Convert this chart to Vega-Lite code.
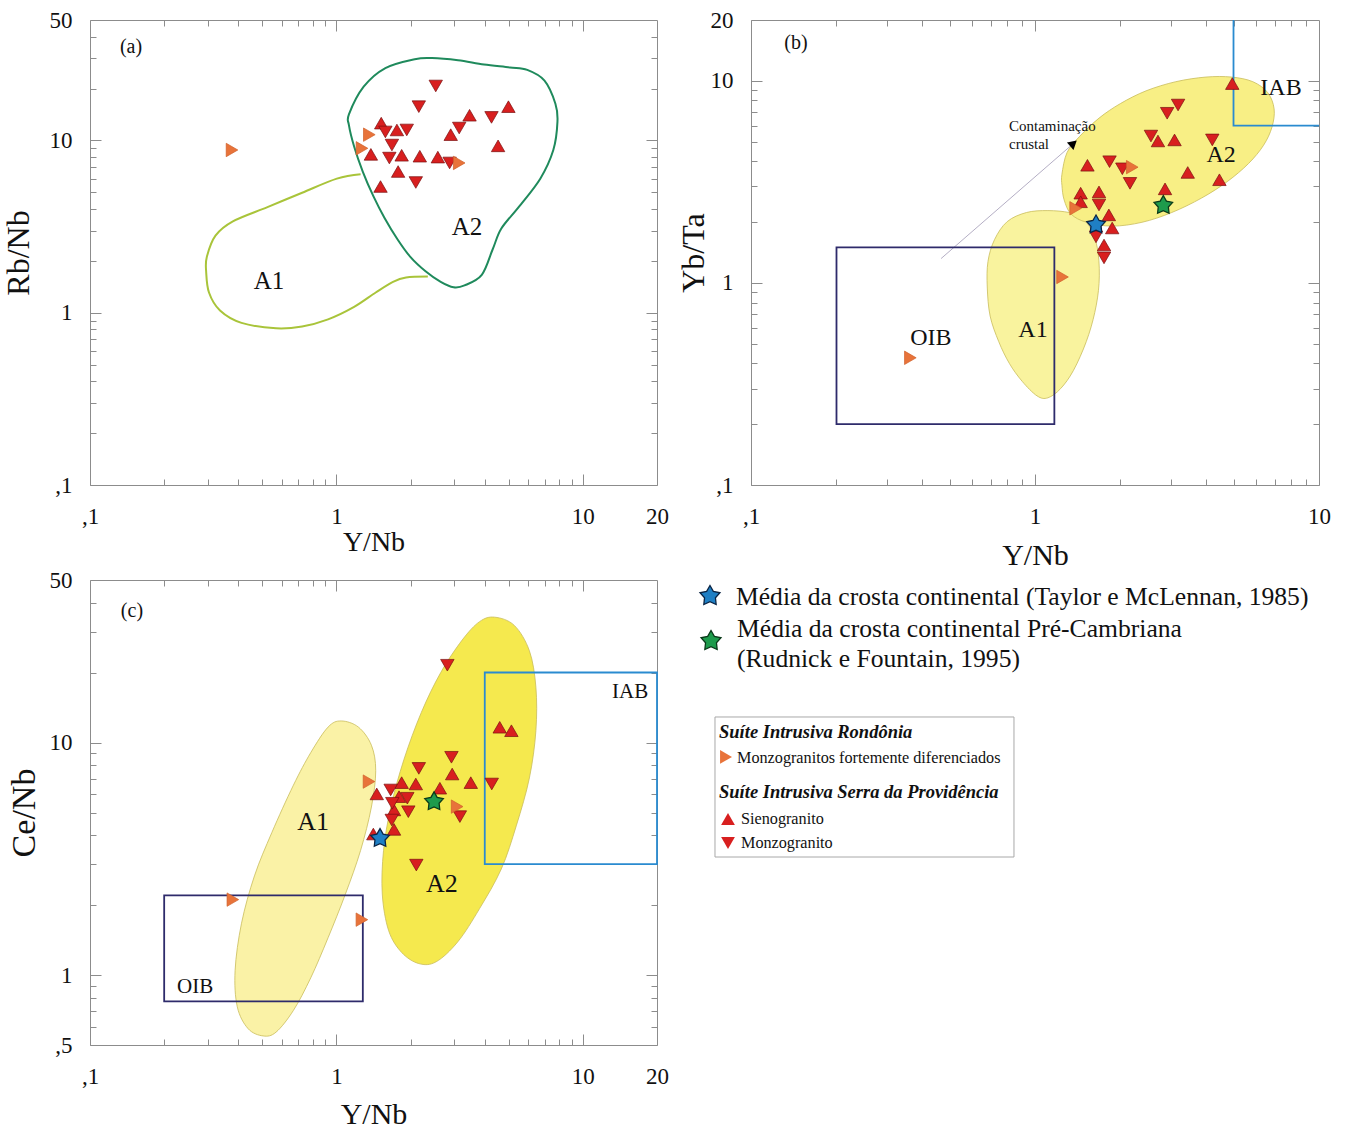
{
"$schema":"https://vega.github.io/schema/vega-lite/v6.json",
"background":"white",
"padding":{"left":1,"top":8,"right":5,"bottom":0},
"bounds":"flush",
"columns":2,
"spacing":{"row":95,"column":94},
"config":{
 "view":{"stroke":"#8c8c8c","strokeWidth":1},
 "font":"Liberation Serif",
 "axis":{"domain":false,"grid":false,"tickColor":"#8c8c8c","tickWidth":1,"labelFont":"Liberation Serif","labelFontSize":23,"labelColor":"#111111","labelFlush":false,"labelOverlap":false,"titleFont":"Liberation Serif","titleFontWeight":"normal","titleColor":"#111111"},
 "text":{"font":"Liberation Serif","color":"#111111","align":"center","baseline":"middle"}
},
"datasets":{
 "a_pts":[
  {"t":"U","x":3.47,"y":14.0},{"t":"U","x":4.99,"y":15.7},{"t":"U","x":1.52,"y":12.6},{"t":"U","x":1.76,"y":11.5},{"t":"U","x":2.91,"y":10.8},{"t":"U","x":1.38,"y":8.3},{"t":"U","x":1.84,"y":8.2},{"t":"U","x":2.18,"y":8.1},{"t":"U","x":2.58,"y":8.0},{"t":"U","x":4.53,"y":9.3},{"t":"U","x":1.78,"y":6.6},{"t":"U","x":1.51,"y":5.4},
  {"t":"D","x":2.53,"y":20.7},{"t":"D","x":2.16,"y":15.7},{"t":"D","x":4.26,"y":13.6},{"t":"D","x":1.58,"y":11.2},{"t":"D","x":1.93,"y":11.5},{"t":"D","x":3.15,"y":11.8},{"t":"D","x":1.68,"y":9.4},{"t":"D","x":1.64,"y":7.9},{"t":"D","x":2.88,"y":7.4},{"t":"D","x":2.1,"y":5.7},
  {"t":"R","x":1.36,"y":10.8},{"t":"R","x":1.27,"y":9.0},{"t":"R","x":3.15,"y":7.4},{"t":"R","x":0.377,"y":8.8}
 ],
 "a_shp":[
  {"s":"A1","i":0,"x":1.254,"y":6.36},{"s":"A1","i":1,"x":1.004,"y":6.0},{"s":"A1","i":2,"x":0.726,"y":4.97},{"s":"A1","i":3,"x":0.525,"y":4.1},{"s":"A1","i":4,"x":0.38,"y":3.39},{"s":"A1","i":5,"x":0.323,"y":2.8},{"s":"A1","i":6,"x":0.298,"y":2.11},{"s":"A1","i":7,"x":0.296,"y":1.74},{"s":"A1","i":8,"x":0.304,"y":1.31},{"s":"A1","i":9,"x":0.337,"y":1.03},{"s":"A1","i":10,"x":0.412,"y":0.873},{"s":"A1","i":11,"x":0.569,"y":0.812},{"s":"A1","i":12,"x":0.726,"y":0.832},{"s":"A1","i":13,"x":0.925,"y":0.915},{"s":"A1","i":14,"x":1.18,"y":1.081},{"s":"A1","i":15,"x":1.444,"y":1.31},{"s":"A1","i":16,"x":1.697,"y":1.51},{"s":"A1","i":17,"x":1.917,"y":1.6},{"s":"A1","i":18,"x":2.35,"y":1.62},
  {"s":"A2","i":0,"x":1.124,"y":14.16},{"s":"A2","i":1,"x":1.29,"y":20.5},{"s":"A2","i":2,"x":1.58,"y":26.3},{"s":"A2","i":3,"x":2.079,"y":29.62},{"s":"A2","i":4,"x":2.443,"y":30.06},{"s":"A2","i":5,"x":3.115,"y":29.18},{"s":"A2","i":6,"x":3.972,"y":27.58},{"s":"A2","i":7,"x":5.06,"y":26.54},{"s":"A2","i":8,"x":5.95,"y":25.67},{"s":"A2","i":9,"x":6.99,"y":22.25},{"s":"A2","i":10,"x":7.74,"y":16.34},{"s":"A2","i":11,"x":7.89,"y":12.86},{"s":"A2","i":12,"x":7.59,"y":8.79},{"s":"A2","i":13,"x":6.72,"y":6.0},{"s":"A2","i":14,"x":5.49,"y":4.1},{"s":"A2","i":15,"x":4.67,"y":3.08},{"s":"A2","i":16,"x":4.3,"y":2.32},{"s":"A2","i":17,"x":3.89,"y":1.66},{"s":"A2","i":18,"x":3.31,"y":1.44},{"s":"A2","i":19,"x":2.99,"y":1.405},{"s":"A2","i":20,"x":2.65,"y":1.51},{"s":"A2","i":21,"x":2.3,"y":1.74},{"s":"A2","i":22,"x":1.995,"y":2.11},{"s":"A2","i":23,"x":1.769,"y":2.67},{"s":"A2","i":24,"x":1.566,"y":3.56},{"s":"A2","i":25,"x":1.414,"y":4.73},{"s":"A2","i":26,"x":1.279,"y":6.6},{"s":"A2","i":27,"x":1.18,"y":9.22},{"s":"A2","i":28,"x":1.124,"y":12.27}
 ],
 "a_lab":[
  {"k":"p","label":"(a)","x":0.1467,"y":34.8},
  {"k":"r","label":"A1","x":0.533,"y":1.53},
  {"k":"r","label":"A2","x":3.39,"y":3.15}
 ],
 "b_pts":[
  {"t":"U","x":4.95,"y":9.69},{"t":"U","x":2.71,"y":5.04},{"t":"U","x":3.1,"y":5.1},{"t":"U","x":3.45,"y":3.52},{"t":"U","x":4.46,"y":3.24},{"t":"U","x":1.53,"y":3.82},{"t":"U","x":2.87,"y":2.92},{"t":"U","x":1.448,"y":2.78},{"t":"U","x":1.448,"y":2.52},{"t":"U","x":1.68,"y":2.82},{"t":"U","x":1.82,"y":2.17},{"t":"U","x":1.87,"y":1.87},{"t":"U","x":1.75,"y":1.54},
  {"t":"D","x":2.92,"y":6.91},{"t":"D","x":3.19,"y":7.59},{"t":"D","x":2.56,"y":5.33},{"t":"D","x":4.21,"y":5.1},{"t":"D","x":1.83,"y":3.98},{"t":"D","x":2.03,"y":3.67},{"t":"D","x":2.16,"y":3.11},{"t":"D","x":1.64,"y":1.69},{"t":"D","x":1.68,"y":2.43},{"t":"D","x":1.75,"y":1.33},
  {"t":"R","x":2.2,"y":3.74},{"t":"R","x":1.39,"y":2.34},{"t":"R","x":1.25,"y":1.07},{"t":"R","x":0.364,"y":0.426}
 ],
 "b_shp":[
  {"s":"A1","i":0,"x":1.11,"y":2.28},{"s":"A1","i":1,"x":1.319,"y":2.23},{"s":"A1","i":2,"x":1.464,"y":2.1},{"s":"A1","i":3,"x":1.596,"y":1.78},{"s":"A1","i":4,"x":1.67,"y":1.39},{"s":"A1","i":5,"x":1.681,"y":0.995},{"s":"A1","i":6,"x":1.624,"y":0.715},{"s":"A1","i":7,"x":1.516,"y":0.513},{"s":"A1","i":8,"x":1.366,"y":0.369},{"s":"A1","i":9,"x":1.231,"y":0.3},{"s":"A1","i":10,"x":1.11,"y":0.27},{"s":"A1","i":11,"x":1.017,"y":0.276},{"s":"A1","i":12,"x":0.901,"y":0.326},{"s":"A1","i":13,"x":0.812,"y":0.4},{"s":"A1","i":14,"x":0.745,"y":0.513},{"s":"A1","i":15,"x":0.695,"y":0.686},{"s":"A1","i":16,"x":0.679,"y":0.955},{"s":"A1","i":17,"x":0.683,"y":1.276},{"s":"A1","i":18,"x":0.72,"y":1.636},{"s":"A1","i":19,"x":0.798,"y":2.01},{"s":"A1","i":20,"x":0.933,"y":2.23},
  {"s":"A2","i":0,"x":1.244,"y":3.45},{"s":"A2","i":1,"x":1.297,"y":4.42},{"s":"A2","i":2,"x":1.438,"y":5.32},{"s":"A2","i":3,"x":1.681,"y":6.54},{"s":"A2","i":4,"x":2.0,"y":7.72},{"s":"A2","i":5,"x":2.46,"y":8.92},{"s":"A2","i":6,"x":3.13,"y":9.9},{"s":"A2","i":7,"x":4.0,"y":10.44},{"s":"A2","i":8,"x":4.92,"y":10.44},{"s":"A2","i":9,"x":5.85,"y":9.9},{"s":"A2","i":10,"x":6.6,"y":8.74},{"s":"A2","i":11,"x":6.95,"y":7.26},{"s":"A2","i":12,"x":6.83,"y":5.9},{"s":"A2","i":13,"x":6.38,"y":4.8},{"s":"A2","i":14,"x":5.65,"y":3.9},{"s":"A2","i":15,"x":4.75,"y":3.17},{"s":"A2","i":16,"x":3.86,"y":2.63},{"s":"A2","i":17,"x":3.03,"y":2.23},{"s":"A2","i":18,"x":2.38,"y":1.995},{"s":"A2","i":19,"x":1.87,"y":1.91},{"s":"A2","i":20,"x":1.52,"y":1.995},{"s":"A2","i":21,"x":1.34,"y":2.19},{"s":"A2","i":22,"x":1.266,"y":2.58},{"s":"A2","i":23,"x":1.244,"y":3.04}
 ],
 "b_line":[
  {"s":"arrow","i":0,"x":0.467,"y":1.32},{"s":"arrow","i":1,"x":1.366,"y":4.9},
  {"s":"IAB","i":0,"x":5,"y":20},{"s":"IAB","i":1,"x":5,"y":6},{"s":"IAB","i":2,"x":10,"y":6}
 ],
 "b_rect":[{"s":"OIB","x":0.2,"x2":1.17,"y":0.2,"y2":1.5}],
 "b_head":[{"x":1.366,"y":4.9}],
 "b_star":[{"c":"blue","x":1.64,"y":1.94},{"c":"green","x":2.83,"y":2.42}],
 "b_lab":[
  {"k":"p","label":"(b)","x":0.144,"y":15.4},
  {"k":"r","label":"IAB","x":7.35,"y":9.22},
  {"k":"r","label":"A2","x":4.52,"y":4.3},
  {"k":"r","label":"A1","x":0.984,"y":0.585},
  {"k":"r","label":"OIB","x":0.43,"y":0.534},
  {"k":"s","label":"Contaminação","x":0.81,"y":5.98},
  {"k":"s","label":"crustal","x":0.81,"y":4.87}
 ],
 "c_pts":[
  {"t":"U","x":4.6,"y":11.63},{"t":"U","x":5.13,"y":11.24},{"t":"U","x":2.95,"y":7.32},{"t":"U","x":3.51,"y":6.72},{"t":"U","x":1.84,"y":6.72},{"t":"U","x":2.1,"y":6.63},{"t":"U","x":1.458,"y":6.01},{"t":"U","x":2.63,"y":6.36},{"t":"U","x":1.795,"y":5.85},{"t":"U","x":1.713,"y":5.13},{"t":"U","x":1.713,"y":4.23},{"t":"U","x":1.412,"y":4.04},
  {"t":"D","x":2.82,"y":21.5},{"t":"D","x":2.93,"y":8.64},{"t":"D","x":2.16,"y":7.74},{"t":"D","x":4.27,"y":6.63},{"t":"D","x":1.66,"y":6.25},{"t":"D","x":1.94,"y":5.76},{"t":"D","x":1.686,"y":5.48},{"t":"D","x":1.958,"y":5.04},{"t":"D","x":3.17,"y":4.8},{"t":"D","x":1.677,"y":4.64},{"t":"D","x":2.11,"y":2.97},
  {"t":"R","x":1.356,"y":6.79},{"t":"R","x":3.09,"y":5.3},{"t":"R","x":0.38,"y":2.11},{"t":"R","x":1.269,"y":1.73}
 ],
 "c_shp":[
  {"s":"A1","i":0,"x":1.045,"y":12.38},{"s":"A1","i":1,"x":1.228,"y":11.65},{"s":"A1","i":2,"x":1.387,"y":9.73},{"s":"A1","i":3,"x":1.444,"y":7.56},{"s":"A1","i":4,"x":1.387,"y":5.28},{"s":"A1","i":5,"x":1.253,"y":3.43},{"s":"A1","i":6,"x":1.088,"y":2.23},{"s":"A1","i":7,"x":0.925,"y":1.446},{"s":"A1","i":8,"x":0.787,"y":0.973},{"s":"A1","i":9,"x":0.669,"y":0.704},{"s":"A1","i":10,"x":0.569,"y":0.568},{"s":"A1","i":11,"x":0.504,"y":0.547},{"s":"A1","i":12,"x":0.438,"y":0.588},{"s":"A1","i":13,"x":0.396,"y":0.73},{"s":"A1","i":14,"x":0.388,"y":1.046},{"s":"A1","i":15,"x":0.412,"y":1.67},{"s":"A1","i":16,"x":0.465,"y":2.67},{"s":"A1","i":17,"x":0.547,"y":4.1},{"s":"A1","i":18,"x":0.669,"y":6.55},{"s":"A1","i":19,"x":0.787,"y":9.05},{"s":"A1","i":20,"x":0.925,"y":11.65},
  {"s":"A2","i":0,"x":4.39,"y":34.6},{"s":"A2","i":1,"x":5.27,"y":31.9},{"s":"A2","i":2,"x":6.07,"y":24.8},{"s":"A2","i":3,"x":6.45,"y":17.3},{"s":"A2","i":4,"x":6.45,"y":11.24},{"s":"A2","i":5,"x":6.07,"y":7.04},{"s":"A2","i":6,"x":5.38,"y":4.41},{"s":"A2","i":7,"x":4.67,"y":2.86},{"s":"A2","i":8,"x":3.81,"y":1.93},{"s":"A2","i":9,"x":3.11,"y":1.39},{"s":"A2","i":10,"x":2.54,"y":1.14},{"s":"A2","i":11,"x":2.16,"y":1.12},{"s":"A2","i":12,"x":1.84,"y":1.25},{"s":"A2","i":13,"x":1.63,"y":1.55},{"s":"A2","i":14,"x":1.535,"y":2.23},{"s":"A2","i":15,"x":1.553,"y":3.43},{"s":"A2","i":16,"x":1.663,"y":5.28},{"s":"A2","i":17,"x":1.878,"y":8.43},{"s":"A2","i":18,"x":2.21,"y":13.45},{"s":"A2","i":19,"x":2.65,"y":19.98},{"s":"A2","i":20,"x":3.24,"y":27.6},{"s":"A2","i":21,"x":3.81,"y":33.1}
 ],
 "c_rect":[{"s":"OIB","x":0.2,"x2":1.28,"y":0.77,"y2":2.2},{"s":"IAB","x":4,"x2":20,"y":3,"y2":20}],
 "c_star":[{"c":"blue","x":1.503,"y":3.87},{"c":"green","x":2.49,"y":5.57}],
 "c_lab":[
  {"k":"p","label":"(c)","x":0.148,"y":36.8},
  {"k":"r","label":"A1","x":0.804,"y":4.55},
  {"k":"r","label":"A2","x":2.68,"y":2.46},
  {"k":"m","label":"IAB","x":15.55,"y":16.5},
  {"k":"m","label":"OIB","x":0.267,"y":0.888}
 ],
 "leg":[
  {"g":"starB","x":-7.22,"y":3.44},
  {"g":"starG","x":-7.04,"y":13.12},
  {"g":"big","label":"Média da crosta continental (Taylor e McLennan, 1985)","x":-2.64,"y":3.66},
  {"g":"big","label":"Média da crosta continental Pré-Cambriana","x":-2.46,"y":10.54},
  {"g":"big","label":"(Rudnick e Fountain, 1995)","x":-2.46,"y":16.99},
  {"g":"head","label":"Suíte Intrusiva Rondônia","x":-5.63,"y":32.69},
  {"g":"head","label":"Suíte Intrusiva Serra da Providência","x":-5.63,"y":45.59},
  {"g":"item","label":"Monzogranitos fortemente diferenciados","x":-2.46,"y":38.28},
  {"g":"item","label":"Sienogranito","x":-1.76,"y":51.4},
  {"g":"item","label":"Monzogranito","x":-1.76,"y":56.56},
  {"g":"R","x":-4.4,"y":38.06},
  {"g":"U","x":-4.05,"y":51.4},
  {"g":"D","x":-4.05,"y":56.56}
 ],
 "leg_box":[{"x":-6.34,"x2":46.3,"y":29.46,"y2":59.57}]
},
"concat":[
 {
  "width":567,"height":465,
  "encoding":{
   "x":{"field":"x","type":"quantitative","scale":{"type":"log","domain":[0.1,20],"nice":false},"axis":null},
   "y":{"field":"y","type":"quantitative","scale":{"type":"log","domain":[0.1,50],"nice":false},"axis":null}
  },
  "resolve":{"axis":{"x":"independent","y":"independent"}},
  "layer":[
   {"data":{"name":"a_shp"},"transform":[{"filter":"datum.s=='A1'"}],
    "mark":{"type":"line","interpolate":"cardinal","stroke":"#a9c43a","strokeWidth":2},
    "encoding":{"order":{"field":"i","type":"quantitative"},
     "x":{"field":"x","type":"quantitative","scale":{"type":"log","domain":[0.1,20],"nice":false},"axis":{"orient":"bottom","values":[0.1,1,10,20],"tickSize":-11,"labelPadding":31,"labelExpr":"datum.value < 0.15 ? ',1' : datum.value < 0.55 ? ',5' : format(datum.value, 'd')","title":"Y/Nb","titleFontSize":28,"titlePadding":0}},
     "y":{"field":"y","type":"quantitative","scale":{"type":"log","domain":[0.1,50],"nice":false},"axis":{"orient":"left","values":[0.1,1,10,50],"tickSize":-11,"labelPadding":29,"labelExpr":"datum.value < 0.15 ? ',1' : datum.value < 0.55 ? ',5' : format(datum.value, 'd')","title":"Rb/Nb","titleFontSize":32,"titlePadding":14}}}},
   {"data":{"name":"a_shp"},"transform":[{"filter":"datum.s=='A2'"}],
    "mark":{"type":"line","interpolate":"cardinal-closed","stroke":"#1f8a5c","strokeWidth":2},
    "encoding":{"order":{"field":"i","type":"quantitative"},
     "x":{"field":"x","type":"quantitative","scale":{"type":"log","domain":[0.1,20],"nice":false},"axis":{"orient":"bottom","values":[0.2,0.3,0.4,0.5,0.6,0.7,0.8,0.9,2,3,4,5,6,7,8,9],"tickSize":-6,"labels":false,"title":null}},
     "y":{"field":"y","type":"quantitative","scale":{"type":"log","domain":[0.1,50],"nice":false},"axis":{"orient":"left","values":[0.2,0.3,0.4,0.5,0.6,0.7,0.8,0.9,2,3,4,5,6,7,8,9,20,30,40],"tickSize":-6,"labels":false,"title":null}}}},
   {"data":{"name":"a_pts"},
    "mark":{"type":"point","filled":true,"size":180,"strokeWidth":0.7,"opacity":1},
    "encoding":{
     "shape":{"field":"t","type":"nominal","scale":{"domain":["R","U","D"],"range":["triangle-right","triangle-up","triangle-down"]},"legend":null},
     "fill":{"field":"t","type":"nominal","scale":{"domain":["R","U","D"],"range":["#e8733a","#d81f1f","#d81f1f"]},"legend":null},
     "stroke":{"field":"t","type":"nominal","scale":{"domain":["R","U","D"],"range":["#d0602a","#7a1010","#7a1010"]},"legend":null},
     "x":{"field":"x","type":"quantitative","scale":{"type":"log","domain":[0.1,20],"nice":false},"axis":{"orient":"top","values":[1,10],"tickSize":-11,"labels":false,"title":null}},
     "y":{"field":"y","type":"quantitative","scale":{"type":"log","domain":[0.1,50],"nice":false},"axis":{"orient":"right","values":[1,10],"tickSize":-11,"labels":false,"title":null}}}},
   {"data":{"name":"a_lab"},"transform":[{"filter":"datum.k=='r'"}],
    "mark":{"type":"text","fontSize":25},
    "encoding":{"text":{"field":"label"},
     "x":{"field":"x","type":"quantitative","scale":{"type":"log","domain":[0.1,20],"nice":false},"axis":{"orient":"top","values":[0.2,0.3,0.4,0.5,0.6,0.7,0.8,0.9,2,3,4,5,6,7,8,9],"tickSize":-6,"labels":false,"title":null}},
     "y":{"field":"y","type":"quantitative","scale":{"type":"log","domain":[0.1,50],"nice":false},"axis":{"orient":"right","values":[0.2,0.3,0.4,0.5,0.6,0.7,0.8,0.9,2,3,4,5,6,7,8,9,20,30,40],"tickSize":-6,"labels":false,"title":null}}}},
   {"data":{"name":"a_lab"},"transform":[{"filter":"datum.k=='p'"}],
    "mark":{"type":"text","fontSize":20},
    "encoding":{"text":{"field":"label"}}}
  ]
 },
 {
  "width":568,"height":465,
  "encoding":{
   "x":{"field":"x","type":"quantitative","scale":{"type":"log","domain":[0.1,10],"nice":false},"axis":null},
   "y":{"field":"y","type":"quantitative","scale":{"type":"log","domain":[0.1,20],"nice":false},"axis":null}
  },
  "resolve":{"axis":{"x":"independent","y":"independent"}},
  "layer":[
   {"data":{"name":"b_shp"},"transform":[{"filter":"datum.s=='A1'"}],
    "mark":{"type":"line","interpolate":"cardinal-closed","fill":"#f9f39e","stroke":"#c9bc5a","strokeWidth":0.8},
    "encoding":{"order":{"field":"i","type":"quantitative"},
     "x":{"field":"x","type":"quantitative","scale":{"type":"log","domain":[0.1,10],"nice":false},"axis":{"orient":"bottom","values":[0.1,1,10],"tickSize":-11,"labelPadding":31,"labelExpr":"datum.value < 0.15 ? ',1' : datum.value < 0.55 ? ',5' : format(datum.value, 'd')","title":"Y/Nb","titleFontSize":30,"titlePadding":12}},
     "y":{"field":"y","type":"quantitative","scale":{"type":"log","domain":[0.1,20],"nice":false},"axis":{"orient":"left","values":[0.1,1,10,20],"tickSize":-11,"labelPadding":29,"labelExpr":"datum.value < 0.15 ? ',1' : datum.value < 0.55 ? ',5' : format(datum.value, 'd')","title":"Yb/Ta","titleFontSize":32,"titlePadding":0}}}},
   {"data":{"name":"b_shp"},"transform":[{"filter":"datum.s=='A2'"}],
    "mark":{"type":"line","interpolate":"cardinal-closed","fill":"#f8ef85","stroke":"#c9bc5a","strokeWidth":0.8},
    "encoding":{"order":{"field":"i","type":"quantitative"},
     "x":{"field":"x","type":"quantitative","scale":{"type":"log","domain":[0.1,10],"nice":false},"axis":{"orient":"bottom","values":[0.2,0.3,0.4,0.5,0.6,0.7,0.8,0.9,2,3,4,5,6,7,8,9],"tickSize":-6,"labels":false,"title":null}},
     "y":{"field":"y","type":"quantitative","scale":{"type":"log","domain":[0.1,20],"nice":false},"axis":{"orient":"left","values":[0.2,0.3,0.4,0.5,0.6,0.7,0.8,0.9,2,3,4,5,6,7,8,9],"tickSize":-6,"labels":false,"title":null}}}},
   {"data":{"name":"b_line"},"transform":[{"filter":"datum.s=='arrow'"}],
    "mark":{"type":"line","stroke":"#b4aec4","strokeWidth":1},
    "encoding":{"order":{"field":"i","type":"quantitative"},
     "x":{"field":"x","type":"quantitative","scale":{"type":"log","domain":[0.1,10],"nice":false},"axis":{"orient":"top","values":[1],"tickSize":-11,"labels":false,"title":null}},
     "y":{"field":"y","type":"quantitative","scale":{"type":"log","domain":[0.1,20],"nice":false},"axis":{"orient":"right","values":[1,10],"tickSize":-11,"labels":false,"title":null}}}},
   {"data":{"name":"b_rect"},
    "mark":{"type":"rect","fillOpacity":0,"stroke":"#2e2b6b","strokeWidth":1.8},
    "encoding":{"x2":{"field":"x2"},"y2":{"field":"y2"},
     "x":{"field":"x","type":"quantitative","scale":{"type":"log","domain":[0.1,10],"nice":false},"axis":{"orient":"top","values":[0.2,0.3,0.4,0.5,0.6,0.7,0.8,0.9,2,3,4,5,6,7,8,9],"tickSize":-6,"labels":false,"title":null}},
     "y":{"field":"y","type":"quantitative","scale":{"type":"log","domain":[0.1,20],"nice":false},"axis":{"orient":"right","values":[0.2,0.3,0.4,0.5,0.6,0.7,0.8,0.9,2,3,4,5,6,7,8,9],"tickSize":-6,"labels":false,"title":null}}}},
   {"data":{"name":"b_line"},"transform":[{"filter":"datum.s=='IAB'"}],
    "mark":{"type":"line","stroke":"#2a8bd0","strokeWidth":1.8},
    "encoding":{"order":{"field":"i","type":"quantitative"}}},
   {"data":{"name":"b_pts"},
    "mark":{"type":"point","filled":true,"size":180,"strokeWidth":0.7,"opacity":1},
    "encoding":{
     "shape":{"field":"t","type":"nominal","scale":{"domain":["R","U","D"],"range":["triangle-right","triangle-up","triangle-down"]},"legend":null},
     "fill":{"field":"t","type":"nominal","scale":{"domain":["R","U","D"],"range":["#e8733a","#d81f1f","#d81f1f"]},"legend":null},
     "stroke":{"field":"t","type":"nominal","scale":{"domain":["R","U","D"],"range":["#d0602a","#7a1010","#7a1010"]},"legend":null}}},
   {"data":{"name":"b_head"},
    "mark":{"type":"point","shape":"triangle-up","angle":49,"filled":true,"size":100,"fill":"#000000","opacity":1},
    "encoding":{}},
   {"data":{"name":"b_star"},"transform":[{"filter":"datum.c=='blue'"}],
    "mark":{"type":"point","shape":"M0,-1L0.32,-0.44L0.951,-0.309L0.52,0.17L0.588,0.809L0,0.55L-0.588,0.809L-0.52,0.17L-0.951,-0.309L-0.32,-0.44Z","filled":true,"size":380,"fill":"#1f7fc4","stroke":"#0b2545","strokeWidth":1.3,"opacity":1},
    "encoding":{}},
   {"data":{"name":"b_star"},"transform":[{"filter":"datum.c=='green'"}],
    "mark":{"type":"point","shape":"M0,-1L0.32,-0.44L0.951,-0.309L0.52,0.17L0.588,0.809L0,0.55L-0.588,0.809L-0.52,0.17L-0.951,-0.309L-0.32,-0.44Z","filled":true,"size":380,"fill":"#1e9b4c","stroke":"#0a3a1a","strokeWidth":1.3,"opacity":1},
    "encoding":{}},
   {"data":{"name":"b_lab"},"transform":[{"filter":"datum.k=='r'"}],
    "mark":{"type":"text","fontSize":24},
    "encoding":{"text":{"field":"label"}}},
   {"data":{"name":"b_lab"},"transform":[{"filter":"datum.k=='p'"}],
    "mark":{"type":"text","fontSize":20},
    "encoding":{"text":{"field":"label"}}},
   {"data":{"name":"b_lab"},"transform":[{"filter":"datum.k=='s'"}],
    "mark":{"type":"text","fontSize":15,"align":"left"},
    "encoding":{"text":{"field":"label"}}}
  ]
 },
 {
  "width":567,"height":465,
  "encoding":{
   "x":{"field":"x","type":"quantitative","scale":{"type":"log","domain":[0.1,20],"nice":false},"axis":null},
   "y":{"field":"y","type":"quantitative","scale":{"type":"log","domain":[0.5,50],"nice":false},"axis":null}
  },
  "resolve":{"axis":{"x":"independent","y":"independent"}},
  "layer":[
   {"data":{"name":"c_shp"},"transform":[{"filter":"datum.s=='A1'"}],
    "mark":{"type":"line","interpolate":"cardinal-closed","fill":"#faf2a6","stroke":"#c9bc5a","strokeWidth":0.8},
    "encoding":{"order":{"field":"i","type":"quantitative"},
     "x":{"field":"x","type":"quantitative","scale":{"type":"log","domain":[0.1,20],"nice":false},"axis":{"orient":"bottom","values":[0.1,1,10,20],"tickSize":-11,"labelPadding":31,"labelExpr":"datum.value < 0.15 ? ',1' : datum.value < 0.55 ? ',5' : format(datum.value, 'd')","title":"Y/Nb","titleFontSize":30,"titlePadding":11}},
     "y":{"field":"y","type":"quantitative","scale":{"type":"log","domain":[0.5,50],"nice":false},"axis":{"orient":"left","values":[0.5,1,10,50],"tickSize":-11,"labelPadding":29,"labelExpr":"datum.value < 0.15 ? ',1' : datum.value < 0.55 ? ',5' : format(datum.value, 'd')","title":"Ce/Nb","titleFontSize":34,"titlePadding":8}}}},
   {"data":{"name":"c_shp"},"transform":[{"filter":"datum.s=='A2'"}],
    "mark":{"type":"line","interpolate":"cardinal-closed","fill":"#f5e94e","stroke":"#c9bc5a","strokeWidth":0.8},
    "encoding":{"order":{"field":"i","type":"quantitative"},
     "x":{"field":"x","type":"quantitative","scale":{"type":"log","domain":[0.1,20],"nice":false},"axis":{"orient":"bottom","values":[0.2,0.3,0.4,0.5,0.6,0.7,0.8,0.9,2,3,4,5,6,7,8,9],"tickSize":-6,"labels":false,"title":null}},
     "y":{"field":"y","type":"quantitative","scale":{"type":"log","domain":[0.5,50],"nice":false},"axis":{"orient":"left","values":[0.6,0.7,0.8,0.9,2,3,4,5,6,7,8,9,20,30,40],"tickSize":-6,"labels":false,"title":null}}}},
   {"data":{"name":"c_rect"},"transform":[{"filter":"datum.s=='OIB'"}],
    "mark":{"type":"rect","fillOpacity":0,"stroke":"#2e2b6b","strokeWidth":1.8},
    "encoding":{"x2":{"field":"x2"},"y2":{"field":"y2"},
     "x":{"field":"x","type":"quantitative","scale":{"type":"log","domain":[0.1,20],"nice":false},"axis":{"orient":"top","values":[1,10],"tickSize":-11,"labels":false,"title":null}},
     "y":{"field":"y","type":"quantitative","scale":{"type":"log","domain":[0.5,50],"nice":false},"axis":{"orient":"right","values":[1,10],"tickSize":-11,"labels":false,"title":null}}}},
   {"data":{"name":"c_rect"},"transform":[{"filter":"datum.s=='IAB'"}],
    "mark":{"type":"rect","fillOpacity":0,"stroke":"#2a8bd0","strokeWidth":1.8},
    "encoding":{"x2":{"field":"x2"},"y2":{"field":"y2"},
     "x":{"field":"x","type":"quantitative","scale":{"type":"log","domain":[0.1,20],"nice":false},"axis":{"orient":"top","values":[0.2,0.3,0.4,0.5,0.6,0.7,0.8,0.9,2,3,4,5,6,7,8,9],"tickSize":-6,"labels":false,"title":null}},
     "y":{"field":"y","type":"quantitative","scale":{"type":"log","domain":[0.5,50],"nice":false},"axis":{"orient":"right","values":[0.6,0.7,0.8,0.9,2,3,4,5,6,7,8,9,20,30,40],"tickSize":-6,"labels":false,"title":null}}}},
   {"data":{"name":"c_pts"},
    "mark":{"type":"point","filled":true,"size":180,"strokeWidth":0.7,"opacity":1},
    "encoding":{
     "shape":{"field":"t","type":"nominal","scale":{"domain":["R","U","D"],"range":["triangle-right","triangle-up","triangle-down"]},"legend":null},
     "fill":{"field":"t","type":"nominal","scale":{"domain":["R","U","D"],"range":["#e8733a","#d81f1f","#d81f1f"]},"legend":null},
     "stroke":{"field":"t","type":"nominal","scale":{"domain":["R","U","D"],"range":["#d0602a","#7a1010","#7a1010"]},"legend":null}}},
   {"data":{"name":"c_star"},"transform":[{"filter":"datum.c=='blue'"}],
    "mark":{"type":"point","shape":"M0,-1L0.32,-0.44L0.951,-0.309L0.52,0.17L0.588,0.809L0,0.55L-0.588,0.809L-0.52,0.17L-0.951,-0.309L-0.32,-0.44Z","filled":true,"size":380,"fill":"#1f7fc4","stroke":"#0b2545","strokeWidth":1.3,"opacity":1},
    "encoding":{}},
   {"data":{"name":"c_star"},"transform":[{"filter":"datum.c=='green'"}],
    "mark":{"type":"point","shape":"M0,-1L0.32,-0.44L0.951,-0.309L0.52,0.17L0.588,0.809L0,0.55L-0.588,0.809L-0.52,0.17L-0.951,-0.309L-0.32,-0.44Z","filled":true,"size":380,"fill":"#1e9b4c","stroke":"#0a3a1a","strokeWidth":1.3,"opacity":1},
    "encoding":{}},
   {"data":{"name":"c_lab"},"transform":[{"filter":"datum.k=='r'"}],
    "mark":{"type":"text","fontSize":26},
    "encoding":{"text":{"field":"label"}}},
   {"data":{"name":"c_lab"},"transform":[{"filter":"datum.k=='m'"}],
    "mark":{"type":"text","fontSize":21},
    "encoding":{"text":{"field":"label"}}},
   {"data":{"name":"c_lab"},"transform":[{"filter":"datum.k=='p'"}],
    "mark":{"type":"text","fontSize":20},
    "encoding":{"text":{"field":"label"}}}
  ]
 },
 {
  "width":568,"height":465,
  "view":{"stroke":null},
  "encoding":{
   "x":{"field":"x","type":"quantitative","scale":{"domain":[0,100],"nice":false,"zero":false},"axis":null},
   "y":{"field":"y","type":"quantitative","scale":{"domain":[0,100],"reverse":true,"nice":false,"zero":false},"axis":null}
  },
  "layer":[
   {"data":{"name":"leg_box"},
    "mark":{"type":"rect","fill":"#ffffff","stroke":"#a8a8a8","strokeWidth":1},
    "encoding":{"x2":{"field":"x2"},"y2":{"field":"y2"}}},
   {"data":{"name":"leg"},"transform":[{"filter":"datum.g=='starB'"}],
    "mark":{"type":"point","shape":"M0,-1L0.32,-0.44L0.951,-0.309L0.52,0.17L0.588,0.809L0,0.55L-0.588,0.809L-0.52,0.17L-0.951,-0.309L-0.32,-0.44Z","filled":true,"size":440,"fill":"#1f7fc4","stroke":"#0b2545","strokeWidth":1.3,"opacity":1},
    "encoding":{}},
   {"data":{"name":"leg"},"transform":[{"filter":"datum.g=='starG'"}],
    "mark":{"type":"point","shape":"M0,-1L0.32,-0.44L0.951,-0.309L0.52,0.17L0.588,0.809L0,0.55L-0.588,0.809L-0.52,0.17L-0.951,-0.309L-0.32,-0.44Z","filled":true,"size":440,"fill":"#1e9b4c","stroke":"#0a3a1a","strokeWidth":1.3,"opacity":1},
    "encoding":{}},
   {"data":{"name":"leg"},"transform":[{"filter":"datum.g=='R'"}],
    "mark":{"type":"point","shape":"triangle-right","filled":true,"size":190,"fill":"#e8733a","opacity":1},
    "encoding":{}},
   {"data":{"name":"leg"},"transform":[{"filter":"datum.g=='U'"}],
    "mark":{"type":"point","shape":"triangle-up","filled":true,"size":190,"fill":"#d81f1f","opacity":1},
    "encoding":{}},
   {"data":{"name":"leg"},"transform":[{"filter":"datum.g=='D'"}],
    "mark":{"type":"point","shape":"triangle-down","filled":true,"size":190,"fill":"#d81f1f","opacity":1},
    "encoding":{}},
   {"data":{"name":"leg"},"transform":[{"filter":"datum.g=='big'"}],
    "mark":{"type":"text","fontSize":25.6,"align":"left"},
    "encoding":{"text":{"field":"label"}}},
   {"data":{"name":"leg"},"transform":[{"filter":"datum.g=='head'"}],
    "mark":{"type":"text","fontSize":18.5,"align":"left","fontStyle":"italic","fontWeight":"bold"},
    "encoding":{"text":{"field":"label"}}},
   {"data":{"name":"leg"},"transform":[{"filter":"datum.g=='item'"}],
    "mark":{"type":"text","fontSize":16.2,"align":"left"},
    "encoding":{"text":{"field":"label"}}}
  ]
 }
]
}
